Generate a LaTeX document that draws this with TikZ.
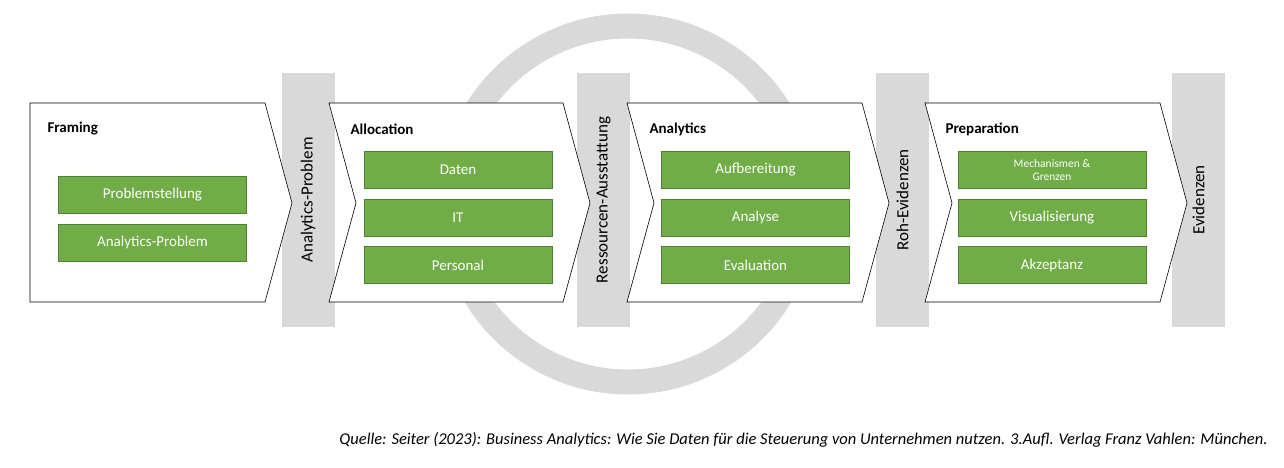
\documentclass[tikz,border=0pt]{standalone}
\usepackage{fontspec}
\setmainfont{Carlito}
\definecolor{gbar}{HTML}{D9D9D9}
\definecolor{grn}{HTML}{70AD47}
\definecolor{grnb}{HTML}{507E32}
\begin{document}
\begin{tikzpicture}[x=1pt,y=-1pt,
  barbox/.style={fill=gbar,draw=none,minimum width=53pt,minimum height=254pt,inner sep=0pt},
  bartext/.style={rotate=90,font=\fontsize{17}{20}\selectfont},
  grnbox/.style={fill=grn,draw=grnb,line width=0.8pt,minimum width=188pt,minimum height=37pt,inner sep=1pt,text=white,font=\fontsize{15}{16}\selectfont,align=center},
  title/.style={anchor=west,font=\bfseries\fontsize{15}{18}\selectfont},
  chev/.style={draw=black,fill=white,line width=0.6pt}]
\useasboundingbox (0,0) rectangle (1284,467);
\node (ring) [circle,draw=gbar,line width=25pt,minimum size=356pt] at (628,204) {};
\node (b1) [barbox] at (308,200) {}; \node[bartext] at (b1) {Analytics-Problem};
\node (b2) [barbox] at (603.5,200) {}; \node[bartext] at (b2) {Ressourcen-Ausstattung};
\node (b3) [barbox] at (902.5,200) {}; \node[bartext] at (b3) {Roh-Evidenzen};
\node (b4) [barbox] at (1198.5,200) {}; \node[bartext] at (b4) {Evidenzen};
\draw[chev] (30,103) -- (265,103) -- (292,203) -- (265,302) -- (30,302) -- cycle;
\draw[chev] (329,103) -- (563,103) -- (590,203) -- (563,302) -- (329,302) -- (356,203) -- cycle;
\draw[chev] (627,103) -- (862,103) -- (889,203) -- (862,302) -- (627,302) -- (654,203) -- cycle;
\draw[chev] (925,103) -- (1160,103) -- (1187,203) -- (1160,302) -- (925,302) -- (952,203) -- cycle;
\node (t1) [title] at (44,129) {Framing};
\node (t2) [title] at (347,129) {Allocation};
\node (t3) [title] at (646,129) {Analytics};
\node (t4) [title] at (942,129) {Preparation};
\node (f1) [grnbox] at (152.5,194.5) {Problemstellung};
\node (f2) [grnbox] at (152.5,242.5) {Analytics-Problem};
\node (a1) [grnbox] at (458,170) {Daten};
\node (a2) [grnbox] at (458,217.5) {IT};
\node (a3) [grnbox] at (458,265) {Personal};
\node (n1) [grnbox] at (755.5,170) {Aufbereitung};
\node (n2) [grnbox] at (755.5,217.5) {Analyse};
\node (n3) [grnbox] at (755.5,265) {Evaluation};
\node (p1) [grnbox,font=\fontsize{11.5}{13}\selectfont] at (1052,170) {Mechanismen \&\\Grenzen};
\node (p2) [grnbox] at (1052,217.5) {Visualisierung};
\node (p3) [grnbox] at (1052,265) {Akzeptanz};
\node (q) [anchor=east,font=\itshape\fontsize{16.5}{20}\selectfont] at (1271,440) {Quelle: Seiter (2023): Business Analytics: Wie Sie Daten für die Steuerung von Unternehmen nutzen. 3.Aufl. Verlag Franz Vahlen: München.};
\end{tikzpicture}
\end{document}
